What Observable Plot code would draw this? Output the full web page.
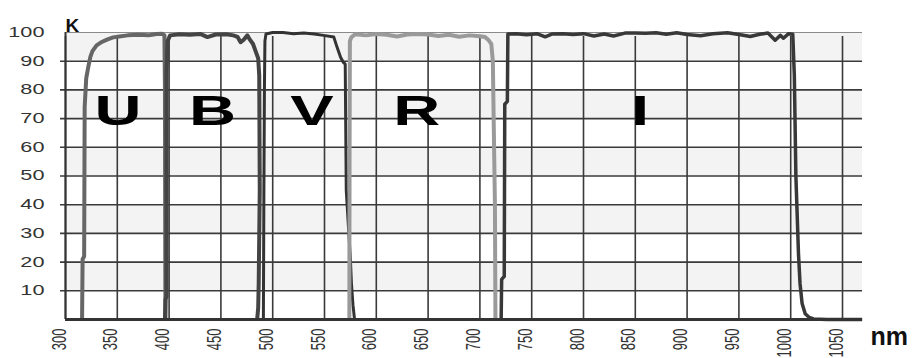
<!DOCTYPE html>
<html>
<head>
<meta charset="utf-8">
<script src="https://cdn.jsdelivr.net/npm/d3@7"></script>
<script src="https://cdn.jsdelivr.net/npm/@observablehq/plot@0.6"></script>
<style>
  html, body { margin: 0; padding: 0; background: #fff; }
  #chart svg { display: block; }
</style>
</head>
<body>
<div id="chart"></div>
<script>
// Filter transmission curves: [wavelength nm, transmission K %]
const filterU = [[316,0],[316.5,21],[318,22],[318.5,74],[320,84],[322,88],[324,91.5],[326,93.5],[330,95.5],[334,96.5],[340,97.5],[346,98.3],[352,98.6],[360,99],[370,99.2],[380,99],[388,99.5],[393,99.6],[395.5,99],[396,80],[396.3,20],[396.5,0]];
const filterB = [[396,0],[396.5,7],[397.5,8],[397.5,86],[398.5,97],[401,99],[410,99.4],[420,99.2],[430,99.5],[437,98.4],[445,99.3],[455,99.4],[462,99],[466,98.5],[469,96.6],[472,97.5],[475.5,99],[478,97.5],[481,96],[484,93],[486,91],[487,85],[487.5,45],[486.5,13],[486,4],[485,0]];
const filterV = [[491,0],[491.5,45],[492,80],[492.5,97],[493.5,99.5],[500,100],[510,100],[520,99.6],[530,99.8],[540,99.5],[549,99],[559,98.4],[562,95],[565.5,91.4],[568,89.7],[570,89],[570.5,67],[571,45],[575,21],[576,12.5],[577.5,5],[579,0]];
const filterR = [[574,0],[574.2,60],[574.5,97],[576,98.4],[580,99.4],[590,99],[600,99.5],[610,99.2],[620,98.6],[630,99.3],[640,99.5],[650,99.3],[660,98.8],[670,99.2],[680,98.5],[690,99],[700,98.7],[705,98.4],[708,97.5],[711,96],[712.5,90],[713,77],[714.5,40],[715,0]];
const filterI = [[720.5,0],[721,14],[723.5,15],[724,75],[726.5,76],[727,99.5],[735,99.6],[745,99.2],[755,99.6],[763,98.5],[770,99.5],[780,99.6],[790,99.3],[800,99.6],[810,98.8],[820,99.5],[829,98.8],[840,99.8],[850,99.8],[860,99.7],[870,99.9],[880,99.4],[890,99.9],[900,99.3],[913,98.9],[925,99.6],[939,99.9],[950,99.3],[961,98.6],[970,99.4],[978,99.8],[985,97.3],[990,99],[993,98],[998,99.6],[1002,99.4],[1003.5,85],[1005,50],[1007.5,23],[1009,12.5],[1011,5.6],[1014,2],[1018,0.7],[1022,0.2],[1035,0],[1069,0]];

const bandNames = ["U", "B", "V", "R", "I"];
const bandNm = [350.7, 442, 538, 639, 854.5];
const bandK = [72.5, 72.5, 72.5, 72.5, 72.5];

const xTicks = [300,350,400,450,500,550,600,650,700,750,800,850,900,950,1000,1050];
const yTicks = [10,20,30,40,50,60,70,80,90,100];
const stripeStarts = [10,30,50,70,90];
const xDomain = [300, 1069.3];

const letters = bandNames.map((t, i) => ({label: t, nm: bandNm[i], k: bandK[i]}));
const font = "'Liberation Sans', Arial, sans-serif";

const curve = (data, stroke, w) => Plot.line(data, {x: d => d[0], y: d => d[1], stroke, strokeWidth: w, strokeLinejoin: "round", strokeLinecap: "butt"});

const chart = Plot.plot({
  width: 912,
  height: 358,
  marginLeft: 65,
  marginRight: 50,
  marginTop: 32,
  marginBottom: 39,
  style: {background: "#fff", fontFamily: font, overflow: "visible"},
  x: {domain: xDomain, axis: null},
  y: {domain: [0, 100], axis: null},
  marks: [
    Plot.rect(stripeStarts, {y1: d => d, y2: d => d + 10, fill: "#f3f3f3"}),
    Plot.ruleX(xTicks, {x: d => d, y1: 0, y2: 100, insetBottom: -4, stroke: "#3a3a3a", strokeWidth: 1.6}),
    Plot.ruleY(yTicks.filter(d => d < 100), {y: d => d, insetLeft: -5, stroke: "#3a3a3a", strokeWidth: 1.6}),
    Plot.ruleY([100], {y: d => d, stroke: "#8a8a8a", strokeWidth: 1}),
    Plot.ruleX([300], {x: d => d, y1: 0, y2: 100, stroke: "#333", strokeWidth: 2}),
    curve(filterU, "#666", 4),
    curve(filterB, "#444", 4),
    curve(filterV, "#333", 3),
    curve(filterR, "#9a9a9a", 4),
    curve(filterI, "#383838", 3.5),
    Plot.ruleY([0], {y: d => d, stroke: "#333", strokeWidth: 3}),
    Plot.text(yTicks, {y: d => d, text: d => String(d), frameAnchor: "left", textAnchor: "end", dx: -21, fontSize: 14, fill: "#333"}),
    Plot.text(xTicks, {x: d => d, text: d => String(d), frameAnchor: "bottom", rotate: -90, textAnchor: "end", dy: 9, fontSize: 13, fill: "#333"}),
    Plot.text(letters, {x: "nm", y: "k", text: "label", fontSize: 42, fontWeight: "bold", fill: "#000"}),
    Plot.text(["K"], {frameAnchor: "top-left", textAnchor: "start", lineAnchor: "bottom", dy: -1, fontSize: 19, fontWeight: "bold", fill: "#111"}),
    Plot.text(["nm"], {frameAnchor: "bottom-right", textAnchor: "start", lineAnchor: "top", dx: 8, dy: 8, fontSize: 25, fontWeight: "bold", fill: "#111"})
  ]
});

// Stretch glyphs horizontally like the reference image (labels and band letters)
const textGroups = chart.querySelectorAll('g[aria-label="text"]');
for (const gi of [0, 1, 2]) {
  const g = textGroups[gi];
  if (!g) continue;
  for (const t of g.querySelectorAll("text")) {
    const x = +(t.getAttribute("x") || 0), y = +(t.getAttribute("y") || 0);
    let tr = t.getAttribute("transform") || "";
    if (x || y) { tr = tr + ` translate(${x},${y})`; t.removeAttribute("x"); t.removeAttribute("y"); }
    t.setAttribute("transform", tr.includes("rotate") ? tr.replace("rotate", "scale(1.55,1) rotate") : tr + " scale(1.55,1)");
  }
}

document.getElementById("chart").appendChild(chart);
</script>
</body>
</html>
